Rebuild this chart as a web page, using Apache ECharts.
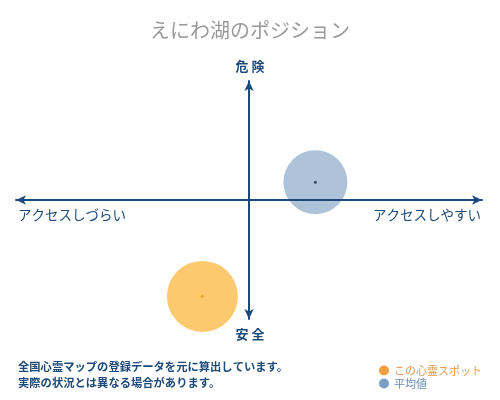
<!DOCTYPE html>
<html>
<head>
<meta charset="utf-8">
<script src="https://cdn.jsdelivr.net/npm/echarts@6/dist/echarts.min.js"></script>
<style>
  html, body { margin: 0; padding: 0; background: #fff; }
  #main { width: 500px; height: 400px; }
</style>
</head>
<body>
<div id="main"></div>
<script>
// position values on a -10..10 scale (x: access, y: danger)
var seriesNames = ['この心霊スポット', '平均値'];
var spotPoint = [-2.0, -8.1];
var averagePoint = [2.85, 1.5];
var axisLabels = ['アクセスしづらい', 'アクセスしやすい', '危 険', '安 全'];
var noteLines = ['全国心霊マップの登録データを元に算出しています。', '実際の状況とは異なる場合があります。'];

var font = 'Noto Sans CJK JP';
var navy = '#1d4a7a';

var myChart = echarts.init(document.getElementById('main'));

var option = {
  animation: false,
  textStyle: { fontFamily: font },
  title: {
    text: 'えにわ湖のポジション',
    left: 'center',
    top: 15,
    textStyle: { fontFamily: font, fontSize: 20, fontWeight: 'normal', color: '#999' }
  },
  legend: {
    orient: 'vertical',
    left: 374,
    top: 360,
    itemGap: 2,
    itemWidth: 10,
    itemHeight: 10,
    icon: 'circle',
    textStyle: { fontFamily: font, fontSize: 11 },
    data: [
      { name: seriesNames[0], itemStyle: { color: '#f0a040' }, textStyle: { color: '#e09a50' } },
      { name: seriesNames[1], itemStyle: { color: '#7aa0c8' }, textStyle: { color: '#6a8db5' } }
    ]
  },
  grid: { left: 16, right: 18, top: 81, bottom: 81 },
  xAxis: {
    type: 'value', min: -10, max: 10, z: 5,
    axisLine: { onZero: true, lineStyle: { color: navy, width: 2 }, symbol: ['arrow', 'arrow'], symbolSize: [7, 10] },
    axisTick: { show: false }, axisLabel: { show: false }, splitLine: { show: false }
  },
  yAxis: {
    type: 'value', min: -10, max: 10, z: 5,
    axisLine: { onZero: true, lineStyle: { color: navy, width: 2 }, symbol: ['arrow', 'arrow'], symbolSize: [7, 10] },
    axisTick: { show: false }, axisLabel: { show: false }, splitLine: { show: false }
  },
  graphic: [
    { type: 'text', left: 18, top: 208, style: { text: axisLabels[0], font: '13.5px "' + font + '"', fill: navy } },
    { type: 'text', right: 19, top: 208, style: { text: axisLabels[1], font: '13.5px "' + font + '"', fill: navy } },
    { type: 'text', left: 'center', top: 60, style: { text: axisLabels[2], font: 'bold 13px "' + font + '"', fill: navy } },
    { type: 'text', left: 'center', top: 328, style: { text: axisLabels[3], font: 'bold 13px "' + font + '"', fill: navy } },
    { type: 'text', left: 18, top: 361, style: { text: noteLines[0], font: 'bold 11.3px "' + font + '"', fill: navy } },
    { type: 'text', left: 18, top: 377, style: { text: noteLines[1], font: 'bold 11.3px "' + font + '"', fill: navy } }
  ],
  series: [
    {
      name: seriesNames[0], type: 'scatter', symbolSize: 71, z: 2,
      itemStyle: { color: '#fdc96f', opacity: 1 },
      data: [spotPoint]
    },
    {
      name: seriesNames[1], type: 'scatter', symbolSize: 64, z: 2,
      itemStyle: { color: '#aec3da', opacity: 1 },
      data: [averagePoint]
    },
    {
      name: seriesNames[0], type: 'scatter', symbolSize: 4, symbol: 'diamond', z: 6,
      itemStyle: { color: '#f0a020' },
      data: [spotPoint]
    },
    {
      name: seriesNames[1], type: 'scatter', symbolSize: 3, z: 6,
      itemStyle: { color: '#1a2e48' },
      data: [averagePoint]
    }
  ]
};

myChart.setOption(option);
</script>
</body>
</html>
